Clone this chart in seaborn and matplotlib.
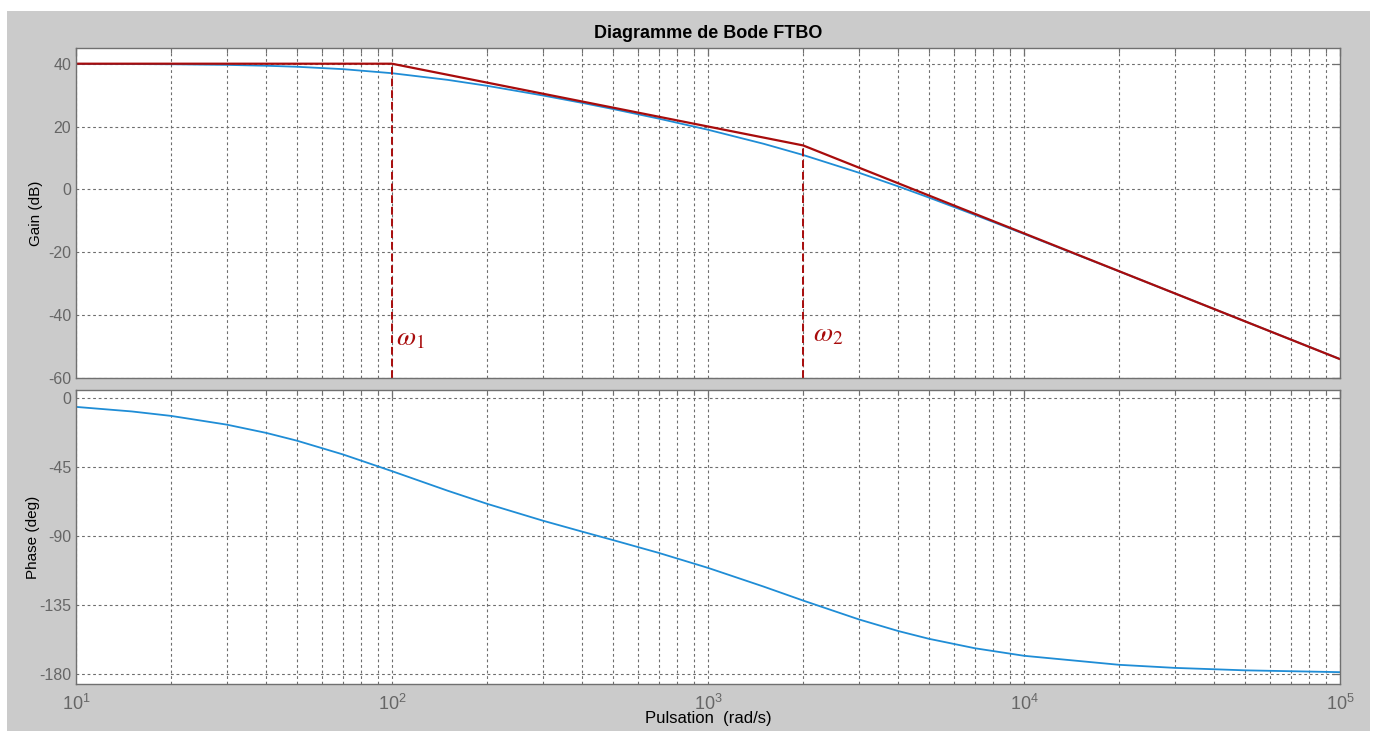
import numpy as np
import pandas as pd
import matplotlib
matplotlib.use("Agg")
import matplotlib.pyplot as plt
import matplotlib.ticker as mticker
from matplotlib.patches import Rectangle
import seaborn as sns

pulsation = [10, 15, 20, 30, 40, 50, 70, 100, 150, 200, 300, 400, 500, 700,
             1000, 1500, 2000, 3000, 4000, 5000, 7000, 10000, 20000, 30000,
             50000, 100000]
gain_db = [39.96, 39.9, 39.83, 39.63, 39.35, 39.03, 38.27, 36.98, 34.86, 32.97,
           29.9, 27.53, 25.59, 22.51, 18.99, 14.52, 10.96, 5.33, 0.97, -2.58,
           -8.12, -14.15, -26.06, -33.08, -41.95, -53.98]
phase_deg = [-6.0, -8.96, -11.88, -17.56, -22.95, -28.0, -36.99, -47.86, -60.6,
             -69.14, -80.1, -87.27, -92.73, -101.16, -110.86, -123.06, -132.14,
             -144.4, -152.0, -157.05, -163.23, -168.12, -174.0, -176.0, -177.6,
             -178.79]

# Diagramme asymptotique
asym_w = [10, 100, 2000, 100000]
asym_db = [40, 40, 14, -54]
omega_1 = 100
omega_2 = 2000

df = pd.DataFrame({"w": pulsation, "gain": gain_db, "phase": phase_deg})
df_asym = pd.DataFrame({"w": asym_w, "gain": asym_db})

sns.set_theme(style="white")
plt.rcParams['font.family'] = ['Liberation Sans', 'DejaVu Sans']
plt.rcParams['mathtext.fontset'] = 'stix'
plt.rcParams['axes.unicode_minus'] = False

bleu = '#1f8dd6'
rouge = '#a80c0c'
gris_grille = '#6e6e6e'
gris_txt = '#666666'

fig = plt.figure(figsize=(13.75, 7.31), dpi=100)
fig.patch.set_facecolor('white')
fig.patches.append(Rectangle((7 / 1375, 0), (1370 - 7) / 1375, 1 - 11 / 731,
                             transform=fig.transFigure, facecolor='#cbcbcb',
                             edgecolor='none', zorder=-10))

ax1 = fig.add_axes([76 / 1375, 1 - 378 / 731, 1264 / 1375, 330 / 731])
ax2 = fig.add_axes([76 / 1375, 1 - 684 / 731, 1264 / 1375, 294 / 731])

sns.lineplot(data=df, x="w", y="gain", ax=ax1, color=bleu, linewidth=1.3)
sns.lineplot(data=df_asym, x="w", y="gain", ax=ax1, color=rouge, linewidth=1.6)
ax1.vlines([omega_1], -60, 40, colors=rouge, linestyles=(0, (4, 2)), linewidth=1.4)
ax1.vlines([omega_2], -60, 14, colors=rouge, linestyles=(0, (4, 2)), linewidth=1.4)
ax1.text(omega_1 * 1.03, -47.5, r'$\omega_1$', color=rouge, fontsize=20,
         va='center', ha='left')
ax1.text(2150, -46, r'$\omega_2$', color=rouge, fontsize=20,
         va='center', ha='left')

sns.lineplot(data=df, x="w", y="phase", ax=ax2, color=bleu, linewidth=1.3)

for ax in (ax1, ax2):
    ax.set_facecolor('white')
    ax.set_xscale('log')
    ax.set_xlim(10, 1e5)
    ax.xaxis.set_major_locator(mticker.LogLocator(base=10, numticks=10))
    ax.xaxis.set_major_formatter(mticker.FuncFormatter(
        lambda v, p: r'$\mathdefault{10^{%d}}$' % round(np.log10(v))))
    ax.xaxis.set_minor_locator(mticker.LogLocator(base=10, subs=np.arange(2, 10), numticks=50))
    ax.xaxis.set_minor_formatter(mticker.NullFormatter())
    ax.grid(True, which='major', axis='both', linestyle=(0, (2.5, 2.5)),
            color=gris_grille, linewidth=0.8)
    ax.grid(True, which='minor', axis='x', linestyle=(0, (2.5, 2.5)),
            color=gris_grille, linewidth=0.8)
    ax.tick_params(which='both', direction='in', top=True, right=True,
                   colors='#707070', labelcolor=gris_txt, labelsize=11.5)
    ax.tick_params(which='major', length=6, width=0.9)
    ax.tick_params(which='minor', length=3.5, width=0.8)
    for s in ax.spines.values():
        s.set_color('#707070')
        s.set_linewidth(1.0)

ax1.set_ylim(-60, 45)
ax1.set_yticks([-60, -40, -20, 0, 20, 40])
ax1.tick_params(axis='x', labelbottom=False)
ax1.set_xlabel('')
ax1.set_ylabel('Gain (dB)', fontsize=11, color='black')
ax1.yaxis.set_label_coords(-33 / 1264, 0.5)
ax1.set_title('Diagramme de Bode FTBO', fontsize=13, fontweight='bold',
              color='black', pad=7)

ax2.set_ylim(-186.5, 5)
ax2.set_yticks([-180, -135, -90, -45, 0])
ax2.set_ylabel('Phase (deg)', fontsize=11, color='black')
ax2.yaxis.set_label_coords(-36 / 1264, 0.5)
ax2.set_xlabel('Pulsation  (rad/s)', fontsize=12, color='black')
ax2.xaxis.set_label_coords(0.5, -35 / 294)
ax2.xaxis.label.set_va('center')
ax2.tick_params(axis='x', pad=7, labelsize=13)

fig.savefig('out.png', dpi=100, facecolor=fig.get_facecolor())
